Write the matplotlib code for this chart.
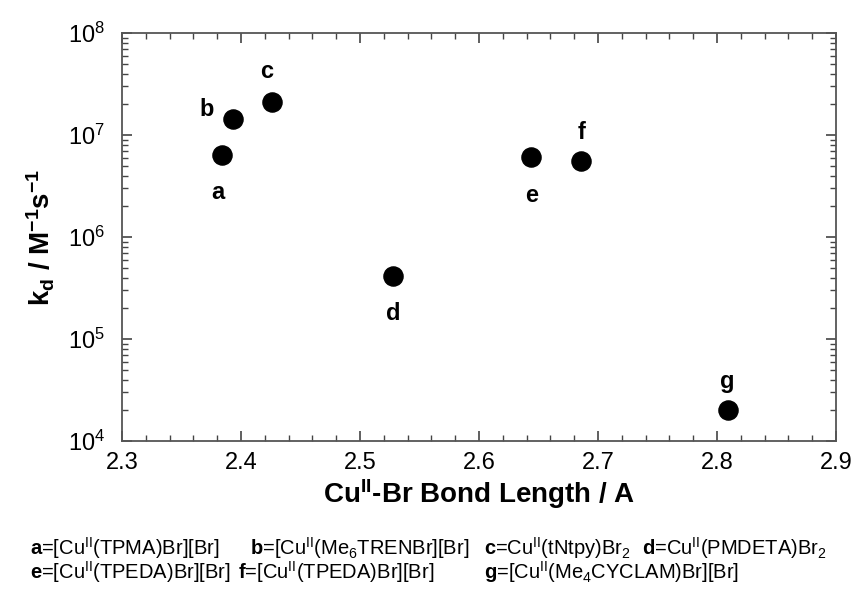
import numpy as np
import matplotlib
matplotlib.use("Agg")
import matplotlib.pyplot as plt
from matplotlib.ticker import MultipleLocator, LogLocator, NullFormatter

plt.rcParams['font.family'] = ['Liberation Sans', 'DejaVu Sans']
plt.rcParams['mathtext.fontset'] = 'custom'
plt.rcParams['mathtext.rm'] = 'Liberation Sans'
plt.rcParams['mathtext.bf'] = 'Liberation Sans:bold'
plt.rcParams['mathtext.it'] = 'Liberation Sans:italic'

# Data
bond_length = [2.384, 2.393, 2.426, 2.528, 2.644, 2.686, 2.809]
kd = [6.4e6, 1.42e7, 2.1e7, 4.1e5, 6.1e6, 5.5e6, 2.0e4]
point_labels = ['a', 'b', 'c', 'd', 'e', 'f', 'g']
label_offsets = [(-3, -27), (-19, 7), (-4, 22), (0, -27), (0, -28), (0, 21), (0, 21)]

legend_rows = [
    [r"$\mathbf{a}$=[Cu$^{\rm II}$(TPMA)Br][Br]",
     r"$\mathbf{b}$=[Cu$^{\rm II}$(Me$_6$TRENBr][Br]",
     r"$\mathbf{c}$=Cu$^{\rm II}$(tNtpy)Br$_2$",
     r"$\mathbf{d}$=Cu$^{\rm II}$(PMDETA)Br$_2$"],
    [r"$\mathbf{e}$=[Cu$^{\rm II}$(TPEDA)Br][Br]",
     r"$\mathbf{f}$=[Cu$^{\rm II}$(TPEDA)Br][Br]",
     r"$\mathbf{g}$=[Cu$^{\rm II}$(Me$_4$CYCLAM)Br][Br]"],
]
legend_x = [[30, 250, 484, 642], [30, 238, 484]]
legend_y = [548, 572]

W, H = 855, 590
fig = plt.figure(figsize=(W / 100, H / 100), dpi=100)
ax = fig.add_axes([122 / W, 1 - 441 / H, (836 - 122) / W, (441 - 33) / H])

ax.scatter(bond_length, kd, s=190, color='black', zorder=3)
for x, y, lab, off in zip(bond_length, kd, point_labels, label_offsets):
    ax.annotate(lab, (x, y), xytext=off, textcoords='offset points',
                ha='center', va='center', fontsize=17, fontweight='bold')

ax.set_yscale('log')
ax.set_xlim(2.3, 2.9)
ax.set_ylim(1e4, 1e8)
ax.xaxis.set_major_locator(MultipleLocator(0.1))
ax.xaxis.set_minor_locator(MultipleLocator(0.02))
ax.yaxis.set_major_locator(LogLocator(base=10, numticks=10))
ax.yaxis.set_minor_locator(LogLocator(base=10, subs=np.arange(2, 10), numticks=20))
ax.yaxis.set_minor_formatter(NullFormatter())
ax.tick_params(which='both', direction='in', top=True, right=True, colors='#444444',
               labelcolor='black', labelsize=17)
ax.tick_params(which='major', length=7, width=1.2)
ax.tick_params(which='minor', length=4, width=1.0)
ax.tick_params(axis='x', pad=8)
ax.tick_params(axis='y', pad=12)
for sp in ax.spines.values():
    sp.set_color('#555555')
    sp.set_linewidth(1.3)

ax.set_xlabel(r"Cu$^{\mathbf{II}}$-Br Bond Length / A", fontsize=20, fontweight='bold', labelpad=2)
ax.set_ylabel(r"k$_{\mathbf{d}}$ / M$^{\mathbf{-1}}$s$^{\mathbf{-1}}$", fontsize=20, fontweight='bold', labelpad=8)

for row, xs, yp in zip(legend_rows, legend_x, legend_y):
    for txt, xp in zip(row, xs):
        fig.text(xp / W, 1 - yp / H, txt, fontsize=14.5, ha='left', va='center')

fig.savefig('out.png', dpi=100)
